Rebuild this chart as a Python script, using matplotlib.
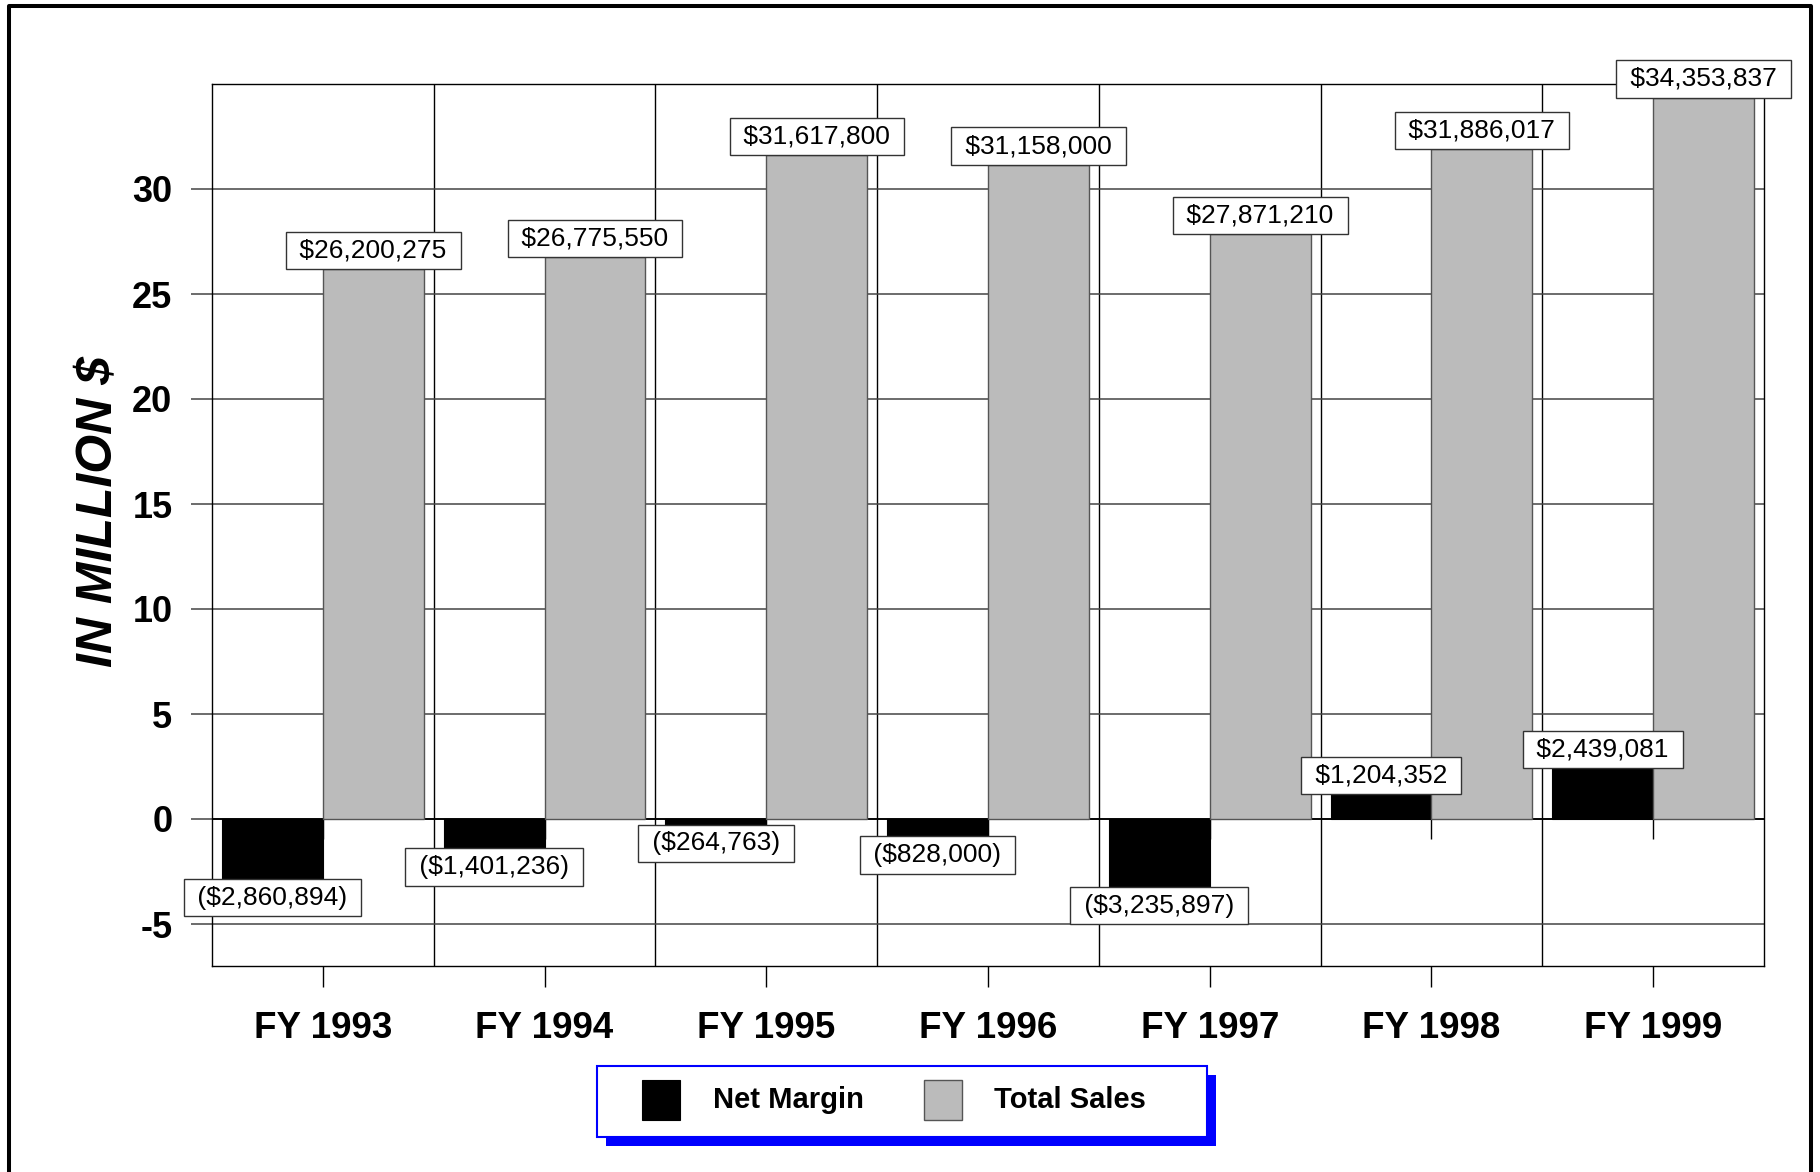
import matplotlib.pyplot as plt
from matplotlib.patches import Rectangle
from matplotlib.lines import Line2D
import numpy as np

plt.rcParams['font.family'] = ['Liberation Sans', 'DejaVu Sans']

# data (dollars)
years = ['FY 1993', 'FY 1994', 'FY 1995', 'FY 1996', 'FY 1997', 'FY 1998', 'FY 1999']
net_margin = [-2860894, -1401236, -264763, -828000, -3235897, 1204352, 2439081]
total_sales = [26200275, 26775550, 31617800, 31158000, 27871210, 31886017, 34353837]
y_ticks = [-5, 0, 5, 10, 15, 20, 25, 30]
series_names = ['Net Margin', 'Total Sales']

NET_COLOR = 'black'
SALES_COLOR = '#bbbbbb'
SALES_EDGE = '#555555'

W, H = 1820, 1172
fig = plt.figure(figsize=(W / 100, H / 100), dpi=100)


def fx(px):
    return px / W


def fy(py):
    return 1 - py / H


def money(v):
    # negative values are shown in brackets, accounting style
    return f"${v:,}" if v >= 0 else f"(${-v:,})"


ax = fig.add_axes([fx(212), fy(966), fx(1764) - fx(212), fy(84) - fy(966)])

x = np.arange(len(years))
w = 0.455
net = np.array(net_margin) / 1e6
tot = np.array(total_sales) / 1e6

ax.bar(x - w, net, w, align='edge', color=NET_COLOR, edgecolor=NET_COLOR, lw=0.8, zorder=3)
ax.bar(x, tot, w, align='edge', color=SALES_COLOR, edgecolor=SALES_EDGE, lw=1.0, zorder=3)

ax.set_xlim(-0.5, len(years) - 0.5)
ax.set_ylim(-7, 35)
ax.set_yticks(y_ticks)
ax.set_yticklabels([str(t) for t in y_ticks])
ax.set_xticks(x)
ax.set_xticklabels(years)
ax.set_xticks(x[:-1] + 0.5, minor=True)

ax.set_axisbelow(True)
ax.grid(axis='y', which='major', color='#444444', lw=1.1)
ax.grid(axis='x', which='minor', color='black', lw=1.0)
ax.tick_params(axis='x', which='minor', length=0)
ax.tick_params(axis='y', direction='out', length=15, width=1.1, color='#444444',
               pad=13.5, labelsize=26)
ax.tick_params(axis='x', which='major', direction='out', length=15, width=1.0,
               pad=17.5, labelsize=26.5)
for lab in ax.get_xticklabels() + ax.get_yticklabels():
    lab.set_fontweight('bold')
for sp in ax.spines.values():
    sp.set_color('black')
    sp.set_linewidth(1.0)

# zero axis with its short ticks under each category
ax.axhline(0, color='black', lw=1.3, zorder=2)
ax.vlines(x, -0.95, 0, color='black', lw=1.0, zorder=2)

# value labels in boxes
box = dict(boxstyle='square,pad=0.25', fc='white', ec='#333333', lw=1.0)
for xi, v, vm in zip(x, total_sales, tot):
    ax.annotate(f" {money(v)} ", (xi + w / 2, vm), xytext=(0, 4.75),
                textcoords='offset points', ha='center', va='bottom',
                fontsize=19, bbox=box, zorder=6, annotation_clip=False)
for xi, v, vm in zip(x, net_margin, net):
    up = v >= 0
    ax.annotate(f" {money(v)} ", (xi - w / 2, vm), xytext=(0, 4.75 if up else -4.75),
                textcoords='offset points', ha='center', va='bottom' if up else 'top',
                fontsize=19, bbox=box, zorder=6, annotation_clip=False)

fig.text(fx(99), fy(512), 'IN MILLION $', rotation=90, ha='center', va='center',
         fontsize=36, fontweight='bold', fontstyle='italic')

# outer frame, open at the bottom
fig.add_artist(Line2D([fx(9), fx(9), fx(1811), fx(1811)], [fy(1190), fy(6), fy(6), fy(1190)],
                      transform=fig.transFigure, color='black', lw=2.9))

# legend with a solid blue shadow
fig.add_artist(Rectangle((fx(606), fy(1146)), fx(1216) - fx(606), fy(1075) - fy(1146),
                         transform=fig.transFigure, fc='blue', ec='none'))
fig.add_artist(Rectangle((fx(597), fy(1137)), fx(1207) - fx(597), fy(1066) - fy(1137),
                         transform=fig.transFigure, fc='white', ec='blue', lw=1.5))
fig.add_artist(Rectangle((fx(642), fy(1120)), fx(38), 40 / H, transform=fig.transFigure,
                         fc=NET_COLOR, ec=NET_COLOR, lw=0.8))
fig.add_artist(Rectangle((fx(924), fy(1120)), fx(38), 40 / H, transform=fig.transFigure,
                         fc=SALES_COLOR, ec=SALES_EDGE, lw=1.0))
fig.text(fx(713), fy(1100), series_names[0], va='center', fontsize=21, fontweight='bold')
fig.text(fx(994), fy(1100), series_names[1], va='center', fontsize=21, fontweight='bold')

fig.savefig('out.png', dpi=100)
